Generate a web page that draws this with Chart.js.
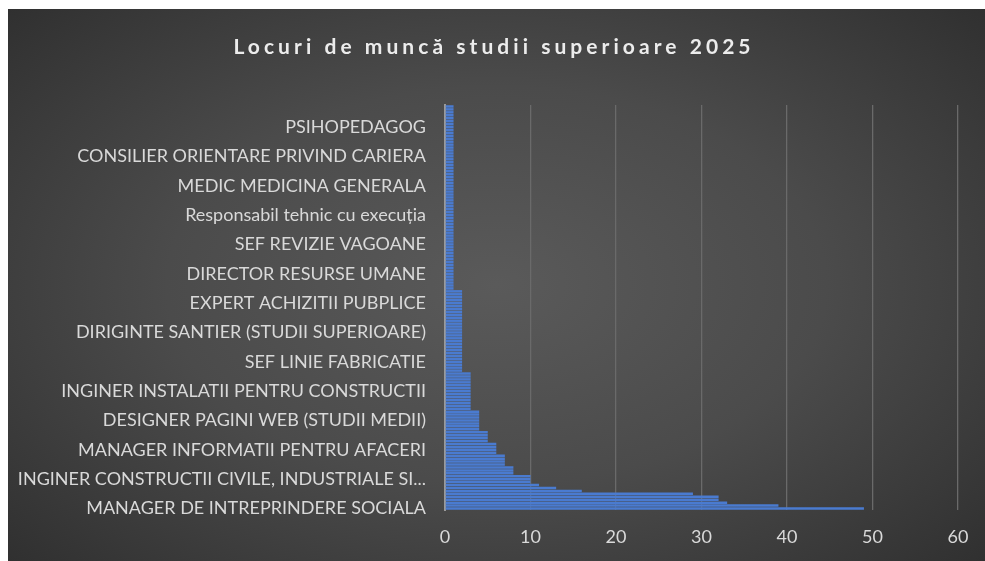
<!DOCTYPE html>
<html>
<head>
<meta charset="utf-8">
<script src="https://cdn.jsdelivr.net/npm/chart.js@4"></script>
<style>
  html, body { margin: 0; padding: 0; background: #fff; }
  #wrap {
    position: absolute; left: 8px; top: 9px; width: 977px; height: 552px;
    background: radial-gradient(ellipse 75% 80% at 50% 50%, #5a5a5a 0%, #4b4b4b 45%, #2b2b2b 100%);
  }
  canvas { display: block; }
</style>
</head>
<body>
<div id="wrap"><canvas id="chart" width="977" height="552"></canvas></div>
<script>
// etichetele vizibile (fiecare a 10-a categorie, de jos in sus)
const labelledJobs = [
  "MANAGER DE INTREPRINDERE SOCIALA",
  "INGINER CONSTRUCTII CIVILE, INDUSTRIALE SI AGRICOLE",
  "MANAGER INFORMATII PENTRU AFACERI",
  "DESIGNER PAGINI WEB (STUDII MEDII)",
  "INGINER INSTALATII PENTRU CONSTRUCTII",
  "SEF LINIE FABRICATIE",
  "DIRIGINTE SANTIER (STUDII SUPERIOARE)",
  "EXPERT ACHIZITII PUBPLICE",
  "DIRECTOR RESURSE UMANE",
  "SEF REVIZIE VAGOANE",
  "Responsabil tehnic cu execuția",
  "MEDIC MEDICINA GENERALA",
  "CONSILIER ORIENTARE PRIVIND CARIERA",
  "PSIHOPEDAGOG"
];

// numar locuri de munca, in ordinea categoriilor (prima = jos)
const locuri = [
  49, 39, 33, 32, 32, 29, 16, 13, 11, 10,
  10, 10, 8, 8, 8, 7, 7, 7, 7, 6,
  6, 6, 6, 5, 5, 5, 5, 4, 4, 4,
  4, 4, 4, 4, 3, 3, 3, 3, 3, 3,
  3, 3, 3, 3, 3, 3, 3, 2, 2, 2,
  2, 2, 2, 2, 2, 2, 2, 2, 2, 2,
  2, 2, 2, 2, 2, 2, 2, 2, 2, 2,
  2, 2, 2, 2, 2, 1, 1, 1, 1, 1,
  1, 1, 1, 1, 1, 1, 1, 1, 1, 1,
  1, 1, 1, 1, 1, 1, 1, 1, 1, 1,
  1, 1, 1, 1, 1, 1, 1, 1, 1, 1,
  1, 1, 1, 1, 1, 1, 1, 1, 1, 1,
  1, 1, 1, 1, 1, 1, 1, 1, 1, 1,
  1, 1, 1, 1, 1, 1, 1, 1
];

const xTicks = [0, 10, 20, 30, 40, 50, 60];

// categoriile fara eticheta vizibila raman goale
const jobs = locuri.map((v, i) => (i % 10 === 0 ? labelledJobs[i / 10] : ""));

const titleText = "Locuri de muncă studii superioare 2025";
const labelFont = "Lato, 'Open Sans', sans-serif";

// titlul cu spatiere intre litere, ca in Excel
const titlePlugin = {
  id: "spacedTitle",
  afterDraw(chart) {
    const ctx = chart.ctx;
    ctx.save();
    ctx.font = "bold 21px Lato, sans-serif";
    ctx.fillStyle = "#ececec";
    ctx.textAlign = "center";
    ctx.textBaseline = "middle";
    if ("letterSpacing" in ctx) ctx.letterSpacing = "4.05px";
    ctx.fillText(titleText, 486, 38);
    ctx.restore();
  }
};

new Chart(document.getElementById("chart").getContext("2d"), {
  type: "bar",
  data: {
    labels: jobs,
    datasets: [{
      label: "Locuri",
      data: locuri,
      backgroundColor: "#4a7bd0",
      borderWidth: 0,
      barPercentage: 0.85,
      categoryPercentage: 1.0
    }]
  },
  options: {
    indexAxis: "y",
    responsive: false,
    animation: false,
    layout: { padding: { top: 96, right: 27, bottom: 0, left: 0 } },
    plugins: {
      legend: { display: false },
      title: { display: false },
      tooltip: { enabled: false }
    },
    scales: {
      y: {
        reverse: true,
        afterFit(scale) { scale.width = 437; },
        grid: { display: false, drawTicks: false },
        border: { display: true, color: "#9a9a9a", width: 2 },
        ticks: {
          autoSkip: false,
          padding: 19,
          color: "#d9d9d9",
          font: { family: labelFont, size: 18 },
          callback(value, index) {
            const l = jobs[index];
            return l.length > 43 ? l.slice(0, 42) + "..." : l;
          }
        }
      },
      x: {
        min: xTicks[0],
        max: xTicks[xTicks.length - 1],
        afterBuildTicks(scale) { scale.ticks = xTicks.map(v => ({ value: v })); },
        afterFit(scale) { scale.height = 51; },
        grid: {
          drawTicks: false,
          color: (c) => (c.index === 0 ? "rgba(0,0,0,0)" : "#6a6a6a"),
          lineWidth: 1.3
        },
        border: { display: false },
        ticks: {
          padding: 16,
          color: "#d9d9d9",
          font: { family: labelFont, size: 18 }
        }
      }
    }
  },
  plugins: [titlePlugin]
});
</script>
</body>
</html>
